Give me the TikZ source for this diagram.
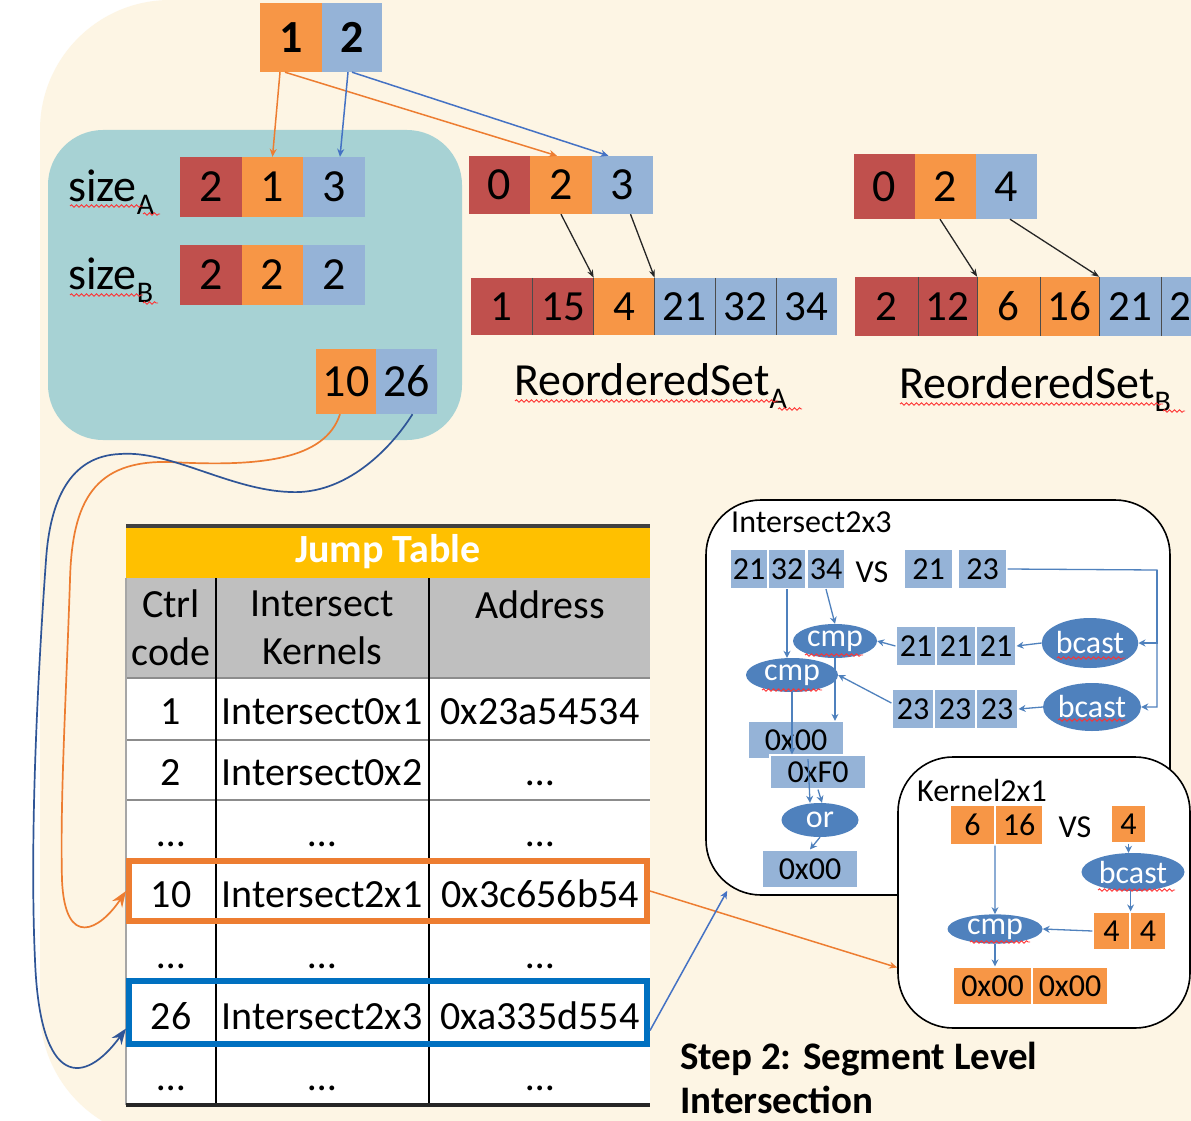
\documentclass[tikz,border=0pt]{standalone}
\usepackage{fontspec}
\setmainfont{Carlito}
\usepackage{xcolor}
\usepackage{tikz}
\usetikzlibrary{arrows.meta, positioning, calc, shapes.geometric, decorations.pathmorphing}

\definecolor{cream}{HTML}{FDF5E4}
\definecolor{tealbox}{HTML}{A7D2D4}
\definecolor{cR}{HTML}{C0504D}
\definecolor{cO}{HTML}{F79646}
\definecolor{cB}{HTML}{95B3D7}
\definecolor{ellB}{HTML}{4F81BD}
\definecolor{arrO}{HTML}{ED7D31}
\definecolor{arrB}{HTML}{4472C4}
\definecolor{curveB}{HTML}{2F5597}
\definecolor{jtyellow}{HTML}{FFC000}
\definecolor{hdrgray}{HTML}{BFBFBF}
\definecolor{hlO}{HTML}{ED7D31}
\definecolor{hlB}{HTML}{0070C0}

\newcommand\cellfont{\fontsize{46}{50}\selectfont}
\newcommand\arrfont{\fontsize{43}{48}\selectfont}
\newcommand\tabfont{\fontsize{40}{48}\selectfont}
\newcommand\kfont{\fontsize{32}{36}\selectfont}
\newcommand\lowidx[1]{\raisebox{-0.3em}{\fontsize{30}{30}\selectfont #1}}

\tikzset{
  cellbox/.style={rectangle, minimum height=60, inner sep=0, font=\cellfont},
  icell/.style={rectangle, draw=white, line width=1.2, fill=cB, minimum height=39,
                inner sep=0, font=\kfont},
  kcell/.style={icell, fill=cO},
  opnode/.style={ellipse, fill=ellB, inner sep=0, text=white, font=\kfont},
  panel/.style={rectangle, draw, fill=white, line width=1.6, rounded corners=55},
  tabtxt/.style={anchor=base, font=\tabfont},
  hlbox/.style={rectangle, draw=#1, line width=6, minimum width=518,
                minimum height=60, inner sep=0},
  toparrow/.style={-{Stealth[length=8,width=7]}, line width=1.5},
  ptr/.style={-{Stealth[length=8,width=6]}, line width=1.3, black!85},
  jump/.style={-{Stealth[length=16,width=12]}, line width=1.7},
  iarrow/.style={-{Stealth[length=7,width=7]}, line width=1.3, ellB},
  cellsep/.style={line width=1.2, black!70},
  spell/.style={draw=red!80, line width=0.9, decorate,
                decoration={snake, amplitude=1.2, segment length=5}}
}

\begin{document}
\begin{tikzpicture}[x=1pt, y=-1pt]
  \clip (0,0) rectangle (1191,1121);

  % Background
  \fill[white] (0,0) rectangle (1191,1121);
  \fill[cream, rounded corners=130] (40,0) rectangle (1500,1140);
  \fill[tealbox, rounded corners=55] (48,130) rectangle (462,440);

  % Ctrl code pair
  \node[cellbox, fill=cO, minimum width=62, minimum height=69, font=\cellfont\bfseries] (c1) at (291,37.5) {1};
  \node[cellbox, fill=cB, minimum width=60, minimum height=69, font=\cellfont\bfseries] (c2) at (352,37.5) {2};

  % Sizes
  \node[anchor=base west, font=\cellfont, inner sep=0] (lsa) at (68,201) {size\lowidx{A}};
  \node[anchor=base west, font=\cellfont, inner sep=0] (lsb) at (68,289) {size\lowidx{B}};
  \foreach \x/\c/\a/\b [count=\i] in {211/cR/2/2, 272.5/cO/1/2, 334/cB/3/2} {
    \node[cellbox, fill=\c, minimum width=62] (a\i) at (\x,187) {\a};
    \node[cellbox, fill=\c, minimum width=62] (b\i) at (\x,275) {\b};
  }
  \node[cellbox, fill=cO, minimum width=60, minimum height=65] (c10) at (346,381.5) {10};
  \node[cellbox, fill=cB, minimum width=61, minimum height=65] (c26) at (406.5,381.5) {26};

  % ReorderedSet A
  \foreach \x/\c/\v in {499.5/cR/0, 561/cO/2, 622.5/cB/3}
    \node[cellbox, fill=\c, minimum width=61.5, minimum height=58] (ia\v) at (\x,185) {\v};
  \foreach \x/\c/\v in {501.5/cR/1, 563/cR/15, 624/cO/4, 684.5/cB/21, 745.5/cB/32, 806.5/cB/34}
    \node[cellbox, fill=\c, minimum width=61, minimum height=57, font=\arrfont] (ra\v) at (\x,306.5) {\v};
  \foreach \v in {1,15,4,21,32}
    \draw[cellsep] (ra\v.north east) -- (ra\v.south east);
  \node[anchor=base west, font=\cellfont, inner sep=0] (lra) at (514,395) {ReorderedSet\lowidx{A}};

  % ReorderedSet B
  \foreach \x/\c/\v in {884/cR/0, 945/cO/2, 1006/cB/4}
    \node[cellbox, fill=\c, minimum width=61, minimum height=65] (ib\v) at (\x,186.5) {\v};
  \foreach \x/\w/\c/\v in {886.5/63/cR/2, 947.5/59/cR/12, 1008.5/63/cO/6, 1069.5/59/cO/16, 1130/62/cB/21, 1191.5/61/cB/23}
    \node[cellbox, fill=\c, minimum width=\w, minimum height=59, font=\arrfont] (rb\v) at (\x,306.5) {\v};
  \foreach \v in {2,12,6,16,21}
    \draw[cellsep] (rb\v.north east) -- (rb\v.south east);
  \node[anchor=base west, font=\cellfont, inner sep=0] (lrb) at (899,398) {ReorderedSet\lowidx{B}};

  % Arrows from the ctrl code pair
  \draw[toparrow, arrO] ([xshift=-11]c1.south) -- (a2.north);
  \draw[toparrow, arrO] ([xshift=-6]c1.south) -- ([xshift=-4]ia2.north);
  \draw[toparrow, arrB] ([xshift=-4]c2.south) -- ([xshift=6]a3.north);
  \draw[toparrow, arrB] (c2.south) -- ([xshift=-14]ia3.north);

  % Offsets into the reordered sets
  \draw[ptr] (ia2.south) -- (ra15.north east);
  \draw[ptr] ([xshift=8]ia3.south) -- (ra4.north east);
  \draw[ptr] ([xshift=-5]ib2.south) -- (rb12.north east);
  \draw[ptr] ([xshift=4]ib4.south) -- (rb16.north east);

  % Jump table
  \fill[white] (126,578) rectangle (650,1105);
  \fill[hdrgray] (126,578) rectangle (650,678);
  \node[fill=jtyellow, minimum width=524, minimum height=52, inner sep=0, text=white,
        font=\tabfont\bfseries] (jt) at (388,552) {Jump Table};
  \draw[line width=4, black!75] (126,526) -- (650,526);
  \foreach \yy in {678,740,800,860,922,982,1045}
    \draw[line width=2.5, black!45] (126,\yy) -- (650,\yy);
  \draw[line width=1.5] (216,578) -- (216,1105) (429,578) -- (429,1105);
  \draw[line width=1.5, black!35] (126,578) -- (126,1105);
  \draw[line width=4, black!85] (126,1105) -- (650,1105);
  \node[align=center, font=\tabfont] (hc) at (171,628) {Ctrl\\code};
  \node[align=center, font=\tabfont] (hk) at (322,628) {Intersect\\Kernels};
  \node[font=\tabfont] (ha) at (540,605) {Address};
  \foreach \r/\n/\k/\a in {1/1/Intersect0x1/0x23a54534, 2/2/Intersect0x2/\ldots,
      3/\ldots/\ldots/\ldots, 4/10/Intersect2x1/0x3c656b54, 5/\ldots/\ldots/\ldots,
      6/26/Intersect2x3/0xa335d554, 7/\ldots/\ldots/\ldots} {
    \pgfmathsetmacro\yb{678+61*(\r-1)+46}
    \node[tabtxt] (n\r) at (171,\yb) {\n};
    \node[tabtxt] (k\r) at (322,\yb) {\k};
    \node[tabtxt] (d\r) at (540,\yb) {\a};
  }
  \node[hlbox=hlO] (hl10) at (388,891) {};
  \node[hlbox=hlB, minimum height=63] (hl26) at (388,1012.5) {};

  % Jumps from the ctrl codes
  \draw[jump, arrO] ([xshift=-6]c10.south) .. controls (325,460) and (260,467) .. (170,462)
    .. controls (95,460) and (72,500) .. (70,580) .. controls (66,700) and (60,800) .. (62,880)
    .. controls (65,950) and (100,930) .. (hl10.west);
  \draw[jump, curveB] ([xshift=6]c26.south) .. controls (390,450) and (345,495) .. (290,492)
    .. controls (230,490) and (170,450) .. (120,454) .. controls (70,456) and (50,500) .. (46,560)
    .. controls (36,700) and (30,850) .. (35,960) .. controls (40,1090) and (85,1085) .. ([yshift=-16]hl26.west);

  % Intersect2x3 kernel
  \node[panel, minimum width=464, minimum height=395] (i23) at (938,697.5) {};
  \node[anchor=base west, font=\kfont, inner sep=0] (li23) at (731,532) {Intersect2x3};
  \foreach \x/\v in {749/21, 787/32, 826/34}
    \node[icell, minimum width=38] (p\v) at (\x,569) {\v};
  \node[font=\kfont] (vs1) at (872,572) {VS};
  \node[icell, minimum width=49] (q21) at (928.5,569) {21};
  \node[icell, minimum width=49] (q23) at (982.5,569) {23};
  \foreach \x [count=\i] in {916,956,996}
    \node[icell, minimum width=40] (s\i) at (\x,646) {21};
  \foreach \x [count=\i] in {913,955,997}
    \node[icell, minimum width=42] (t\i) at (\x,709) {23};
  \node[opnode, minimum width=96, minimum height=50] (bc1) at (1090,643) {bcast};
  \node[opnode, minimum width=98, minimum height=48] (bc2) at (1092,707) {bcast};
  \node[opnode, minimum width=84, minimum height=34] (cmp1) at (835,641) {cmp};
  \node[opnode, minimum width=92, minimum height=34] (cmp2) at (792,675) {cmp};
  \node[icell, minimum width=96, minimum height=37] (x0a) at (796,740) {0x00};
  \node[icell, minimum width=96, minimum height=34] (xF0) at (818,772) {0xF0};
  \node[opnode, minimum width=77, minimum height=34] (orop) at (820,820) {or};
  \node[icell, minimum width=95, minimum height=38] (x0b) at (810,869) {0x00};
  \coordinate (rt) at (1157,570);
  \draw[iarrow] (q23.east) -- (rt) |- (bc2.east);
  \draw[iarrow] (rt) |- (bc1.east);
  \draw[iarrow] (bc1.west) -- (s3.east);
  \draw[iarrow] (bc2.west) -- (t3.east);
  \draw[iarrow] (s1.west) -- (cmp1.east);
  \draw[iarrow] ([yshift=6]t1.west) -- (cmp2.east);
  \draw[iarrow] (p34.south) -- (cmp1.north);
  \draw[iarrow] (p32.south) -- (p32.south |- cmp2.north);
  \draw[iarrow] (cmp1.south) -- (cmp1.south |- x0a.north);
  \draw[iarrow] (cmp2.south) -- (cmp2.south |- xF0.north);
  \draw[iarrow] ([xshift=12]x0a.south) -- ([xshift=-10]orop.north);
  \draw[iarrow] (xF0.south) -- ([xshift=2]orop.north);
  \draw[iarrow] (orop.south) -- (x0b.north);

  % Kernel2x1
  \node[panel, minimum width=292, minimum height=271] (k21) at (1044,892.5) {};
  \node[anchor=base west, font=\kfont, inner sep=0] (lk21) at (917,801) {Kernel2x1};
  \node[kcell, minimum width=45, minimum height=40] (k6) at (972.5,825) {6};
  \node[kcell, minimum width=47, minimum height=40] (k16) at (1019,825) {16};
  \node[font=\kfont] (vs2) at (1075,827) {VS};
  \node[kcell, minimum width=34, minimum height=38] (k4) at (1128.5,824) {4};
  \node[opnode, minimum width=103, minimum height=38] (bck) at (1133,872) {bcast};
  \node[kcell, minimum width=37, minimum height=38] (k44a) at (1111.5,931) {4};
  \node[kcell, minimum width=36, minimum height=38] (k44b) at (1148,931) {4};
  \node[opnode, minimum width=95, minimum height=28] (cmpk) at (995,929) {cmp};
  \node[kcell, minimum width=79, minimum height=38] (k00a) at (992.5,986) {0x00};
  \node[kcell, minimum width=76, minimum height=38] (k00b) at (1070,986) {0x00};
  \draw[iarrow] (k16.south west) -- (cmpk.north);
  \draw[iarrow] (k4.south) -- (k4.south |- bck.north);
  \draw[iarrow] (bck.south -| k44a.east) -- (k44a.north east);
  \draw[iarrow] (k44a.west) -- (cmpk.east);
  \draw[iarrow] (cmpk.south) -- (cmpk.south |- k00a.north);

  % Table rows to kernels
  \draw[toparrow, arrO] (hl10.east) -- ($(k21.west)+(0,75)$);
  \draw[toparrow, arrB] ([yshift=-18]hl26.east) -- ($(i23.south west)+(22,-5)$);

  \node[anchor=north west, align=left, inner sep=0,
        font=\fontsize{39}{44}\selectfont\bfseries] (step) at (680,1042) {Step 2: Segment Level\\Intersection};

  % spell-check marks
  \foreach \xa/\xb/\yy in {70/143/206, 143/160/214, 70/143/295, 143/158/303, 515/778/401,
      778/802/409, 900/1163/404, 1163/1185/411, 805/863/655, 762/822/690, 1057/1125/658,
      1058/1126/720, 1098/1175/890, 970/1030/942}
    \draw[spell] (\xa,\yy) -- (\xb,\yy);
\end{tikzpicture}
\end{document}
